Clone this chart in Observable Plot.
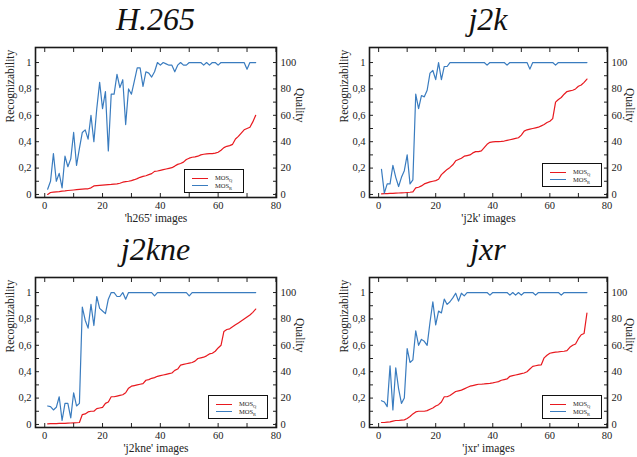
<!DOCTYPE html>
<html><head><meta charset="utf-8">
<script src="https://cdn.jsdelivr.net/npm/d3@7"></script>
<script src="https://cdn.jsdelivr.net/npm/@observablehq/plot@0.6"></script>
<style>
body{margin:0;width:637px;height:457px;overflow:hidden;position:relative;background:#fff;font-family:"Liberation Serif","Tinos","Times New Roman","DejaVu Serif",serif;color:#222;}
.panel{position:absolute;}
.panel svg{display:block;overflow:visible;}
svg, svg text, svg g {font-family:"Liberation Serif","Tinos","Times New Roman","DejaVu Serif",serif !important;}
.title{position:absolute;font-style:italic;font-size:32px;line-height:32px;text-align:center;white-space:nowrap;color:#111;}
.legend{position:absolute;box-sizing:border-box;border:1.3px solid #111;background:#fff;width:60px;height:24px;}
.legend .ln{position:absolute;left:7px;width:16px;height:1.3px;}
.legend .tx{position:absolute;left:30px;font-size:6.5px;line-height:7px;color:#222;}
.legend sub{font-size:4.5px;vertical-align:-1.5px;}
</style>
</head><body>
<script>
const xs = d3.range(1, 74);
const titles = ["H.265", "j2k", "j2kne", "jxr"];
const xLabels = ["'h265' images", "'j2k' images", "'j2kne' images", "'jxr' images"];
const yLabel = "Recognizability";
const y2Label = "Quality";
const legendNames = [["MOS", "Q"], ["MOS", "R"]];
const xTickLabels = [0, 20, 40, 60, 80];
const yTickLabels = [0, 0.2, 0.4, 0.6, 0.8, 1];

const h265Q = [0.000,0.015,0.018,0.020,0.022,0.025,0.027,0.030,0.032,0.034,
 0.036,0.038,0.040,0.042,0.043,0.050,0.065,0.067,0.069,0.071,
 0.073,0.075,0.076,0.078,0.080,0.085,0.093,0.097,0.100,0.105,
 0.112,0.120,0.130,0.137,0.142,0.150,0.158,0.175,0.178,0.183,
 0.188,0.193,0.198,0.203,0.215,0.228,0.235,0.245,0.265,0.275,
 0.282,0.285,0.290,0.300,0.305,0.308,0.310,0.310,0.313,0.320,
 0.335,0.355,0.365,0.370,0.380,0.420,0.440,0.465,0.490,0.500,
 0.510,0.550,0.600];
const h265R = [0.04,0.10,0.31,0.10,0.16,0.05,0.29,0.21,0.27,0.47,
 0.22,0.35,0.47,0.49,0.42,0.60,0.40,0.65,0.85,0.65,
 0.78,0.33,0.76,0.76,0.91,0.81,0.87,0.53,0.80,0.76,
 0.86,0.96,0.96,0.82,0.93,0.92,0.89,0.93,1.00,0.98,
 1.00,0.99,0.98,0.98,0.93,0.98,1.00,0.98,0.98,1.00,
 1.00,1.00,1.00,1.00,0.98,1.00,0.98,1.00,1.00,0.98,
 1.00,1.00,1.00,1.00,1.00,1.00,1.00,1.00,1.00,0.95,
 1.00,1.00,1.00];
const j2kQ = [0.005,0.006,0.007,0.008,0.009,0.010,0.011,0.012,0.013,0.015,
 0.017,0.020,0.050,0.055,0.065,0.080,0.088,0.095,0.100,0.105,
 0.115,0.150,0.170,0.190,0.205,0.225,0.255,0.265,0.275,0.290,
 0.295,0.300,0.315,0.325,0.325,0.330,0.355,0.380,0.395,0.398,
 0.400,0.400,0.402,0.405,0.410,0.415,0.420,0.425,0.430,0.450,
 0.480,0.490,0.495,0.500,0.505,0.510,0.520,0.530,0.545,0.555,
 0.575,0.700,0.720,0.735,0.760,0.780,0.785,0.790,0.800,0.820,
 0.830,0.850,0.875];
const j2kR = [0.19,0.01,0.08,0.08,0.22,0.13,0.06,0.13,0.18,0.30,
 0.08,0.11,0.76,0.65,0.75,0.74,0.79,0.92,0.94,0.87,
 1.00,0.87,0.97,0.97,1.00,1.00,1.00,1.00,1.00,1.00,
 1.00,1.00,1.00,1.00,1.00,1.00,1.00,0.98,1.00,1.00,
 1.00,1.00,1.00,1.00,0.98,1.00,1.00,1.00,1.00,1.00,
 1.00,1.00,0.95,1.00,1.00,1.00,1.00,1.00,1.00,1.00,
 1.00,0.98,1.00,1.00,1.00,1.00,1.00,1.00,1.00,1.00,
 1.00,1.00,1.00];
const j2kneQ = [0.005,0.006,0.007,0.007,0.008,0.008,0.009,0.010,0.011,0.012,
 0.013,0.015,0.075,0.080,0.095,0.100,0.100,0.120,0.125,0.130,
 0.160,0.170,0.210,0.210,0.215,0.220,0.225,0.240,0.275,0.290,
 0.295,0.300,0.305,0.310,0.335,0.340,0.350,0.355,0.365,0.370,
 0.375,0.380,0.385,0.390,0.410,0.420,0.450,0.455,0.460,0.465,
 0.470,0.480,0.500,0.505,0.510,0.520,0.535,0.540,0.555,0.580,
 0.600,0.705,0.720,0.725,0.740,0.755,0.770,0.785,0.800,0.815,
 0.830,0.850,0.875];
const j2kneR = [0.14,0.135,0.11,0.13,0.21,0.03,0.16,0.16,0.05,0.24,
 0.14,0.16,0.89,0.79,0.73,0.91,0.75,0.97,0.88,0.86,
 0.84,0.95,1.00,1.00,0.97,0.97,1.00,0.95,1.00,1.00,
 1.00,1.00,1.00,1.00,1.00,1.00,1.00,0.975,1.00,1.00,
 1.00,1.00,1.00,1.00,1.00,1.00,1.00,1.00,1.00,0.975,
 1.00,1.00,1.00,1.00,1.00,1.00,1.00,1.00,1.00,1.00,
 1.00,1.00,1.00,1.00,1.00,1.00,1.00,1.00,1.00,1.00,
 1.00,1.00,1.00];
const jxrQ = [0.015,0.015,0.018,0.020,0.025,0.030,0.030,0.033,0.035,0.045,
 0.060,0.080,0.095,0.100,0.100,0.100,0.105,0.115,0.125,0.140,
 0.150,0.170,0.210,0.210,0.220,0.235,0.250,0.255,0.260,0.270,
 0.280,0.290,0.295,0.300,0.305,0.305,0.307,0.310,0.312,0.315,
 0.320,0.325,0.335,0.340,0.345,0.365,0.370,0.375,0.380,0.385,
 0.390,0.400,0.420,0.440,0.445,0.450,0.452,0.505,0.525,0.540,
 0.545,0.548,0.550,0.553,0.555,0.560,0.585,0.600,0.610,0.650,
 0.680,0.690,0.845];
const jxrR = [0.18,0.17,0.135,0.445,0.11,0.43,0.27,0.16,0.20,0.575,
 0.47,0.49,0.71,0.60,0.645,0.63,0.60,0.775,0.93,0.755,
 0.86,0.845,0.95,0.91,0.93,0.96,0.995,0.935,0.995,0.975,
 1.00,1.00,1.00,1.00,1.00,1.00,1.00,1.00,0.98,1.00,
 1.00,1.00,1.00,1.00,1.00,0.98,1.00,0.98,1.00,0.98,
 1.00,1.00,1.00,1.00,0.98,1.00,1.00,1.00,1.00,1.00,
 1.00,1.00,1.00,0.98,1.00,1.00,1.00,1.00,1.00,1.00,
 1.00,1.00,1.00];

const RED = "#e8191f", BLUE = "#3a7cbf";
const SERIF = "'Liberation Serif', Tinos, 'Times New Roman', 'DejaVu Serif', serif";
const decFmt = d => String(+d.toFixed(1)).replace(".", ",");

const panels = [
  {q: h265Q, r: h265R, i: 0, left: 0, top: 40, width: 318, qdx: 23, leg: [184, 129]},
  {q: j2kQ, r: j2kR, i: 1, left: 334, top: 40, width: 315, qdx: 22, leg: [208, 123]},
  {q: j2kneQ, r: j2kneR, i: 2, left: 0, top: 270, width: 318, qdx: 23, leg: [208, 125]},
  {q: jxrQ, r: jxrR, i: 3, left: 334, top: 270, width: 315, qdx: 22, leg: [208, 125]}
];
const ML = 35, MR = 42, MT = 7, MB = 33, H = 190;

for (const p of panels) {
  const div = document.createElement("div");
  div.className = "panel";
  div.style.left = p.left + "px";
  div.style.top = p.top + "px";
  div.style.width = p.width + "px";
  document.body.appendChild(div);

  const t = document.createElement("div");
  t.className = "title";
  t.textContent = titles[p.i];
  t.style.left = (p.left + ML) + "px";
  t.style.width = (p.width - ML - MR) + "px";
  t.style.top = (p.top - 37) + "px";
  document.body.appendChild(t);

  const minorX = d3.range(0, 81, 10);
  const minorY = d3.range(0, 11).map(d => d / 10);
  const chart = Plot.plot({
    width: p.width, height: H,
    marginLeft: ML, marginRight: MR, marginTop: MT, marginBottom: MB,
    x: {domain: [-3.2, 80.2]},
    y: {domain: [-0.023, 1.114]},
    style: {fontFamily: SERIF, fontSize: "10px", color: "#222", background: "transparent", overflow: "visible"},
    marks: [
      Plot.line(xs, {x: d => d, y: (d, i) => p.q[i], stroke: RED, strokeWidth: 1.2}),
      Plot.line(xs, {x: d => d, y: (d, i) => p.r[i], stroke: BLUE, strokeWidth: 1.2}),
      Plot.axisX(xTickLabels, {anchor: "bottom", tickSize: 0, tickPadding: 4, label: null, fontSize: 10.5}),
      Plot.axisX(minorX, {anchor: "bottom", tickSize: -4, tickFormat: () => "", label: null, stroke: "#222"}),
      Plot.axisX(minorX, {anchor: "top", tickSize: -4, tickFormat: () => "", label: null, stroke: "#222"}),
      Plot.axisY(yTickLabels, {anchor: "left", tickSize: 0, tickPadding: 4, tickFormat: decFmt, label: null, fontSize: 10.5}),
      Plot.axisY(minorY, {anchor: "left", tickSize: -4, tickFormat: () => "", label: null, stroke: "#222"}),
      Plot.axisY(yTickLabels, {anchor: "right", tickSize: 0, tickPadding: 4, tickFormat: d => Math.round(d * 100), label: null, fontSize: 10.5}),
      Plot.axisY(minorY, {anchor: "right", tickSize: -4, tickFormat: () => "", label: null, stroke: "#222"}),
      Plot.frame({stroke: "#1a1a1a", strokeWidth: 1.6}),
      Plot.text([xLabels[p.i]], {text: d => d, frameAnchor: "bottom", dy: 24, fontSize: 11.5, fill: "#222"}),
      Plot.text([yLabel], {text: d => d, frameAnchor: "left", rotate: -90, dx: -25, fontSize: 11.5, fill: "#222"}),
      Plot.text([y2Label], {text: d => d, frameAnchor: "right", rotate: 90, dx: p.qdx, fontSize: 11.5, fill: "#222"})
    ]
  });
  div.appendChild(chart);

  const lg = document.createElement("div");
  lg.className = "legend";
  lg.style.left = p.leg[0] + "px";
  lg.style.top = p.leg[1] + "px";
  const colors = [RED, BLUE];
  legendNames.forEach(([a, b], k) => {
    const ln = document.createElement("div");
    ln.className = "ln";
    ln.style.background = colors[k];
    ln.style.top = (k === 0 ? 7.5 : 15.2) + "px";
    lg.appendChild(ln);
    const tx = document.createElement("div");
    tx.className = "tx";
    tx.style.top = (k === 0 ? 4 : 11.7) + "px";
    tx.innerHTML = a + "<sub>" + b + "</sub>";
    lg.appendChild(tx);
  });
  div.appendChild(lg);
}
</script>
</body></html>
